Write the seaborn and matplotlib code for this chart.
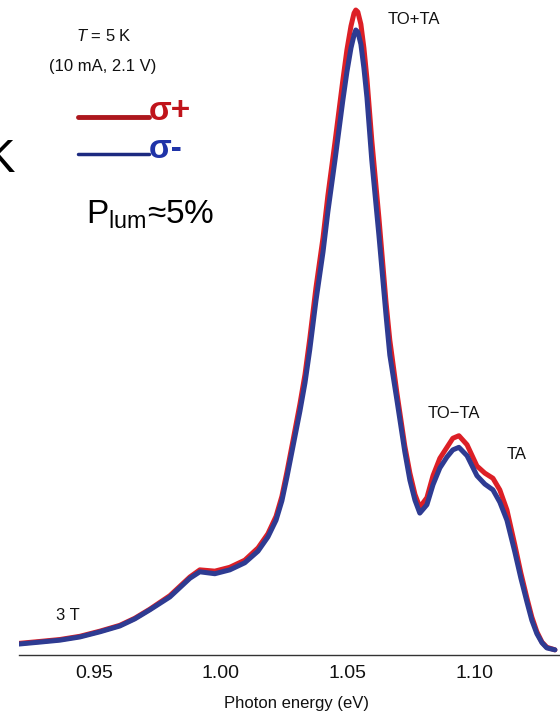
import numpy as np
import pandas as pd
import matplotlib
matplotlib.use("Agg")
import matplotlib.pyplot as plt
import seaborn as sns
from matplotlib.ticker import MultipleLocator

# photon energy (eV)
energy = [0.9205, 0.9287, 0.9366, 0.9445, 0.9524, 0.9602, 0.9661, 0.9720, 0.9799,
          0.9878, 0.9917, 0.9976, 1.0035, 1.0094, 1.0146, 1.0185, 1.0217, 1.0240,
          1.0260, 1.0283, 1.0311, 1.0331, 1.0350, 1.0374, 1.0402, 1.0421, 1.0449,
          1.0480, 1.0496, 1.0512, 1.0524, 1.0531, 1.0539, 1.0551, 1.0563, 1.0575,
          1.0594, 1.0622, 1.0650, 1.0665, 1.0693, 1.0724, 1.0744, 1.0764, 1.0783,
          1.0811, 1.0835, 1.0862, 1.0890, 1.0913, 1.0937, 1.0969, 1.1008, 1.1039,
          1.1071, 1.1098, 1.1126, 1.1157, 1.1181, 1.1205, 1.1224, 1.1244, 1.1264,
          1.1283, 1.1315]

# sigma- (blue), arbitrary units
sigma_minus = [1.7, 2.0, 2.3, 2.8, 3.6, 4.5, 5.6, 7.0, 9.0,
               11.9, 12.9, 12.6, 13.2, 14.3, 16.1, 18.3, 20.9, 23.9,
               27.6, 32.2, 37.8, 42.2, 47.4, 54.9, 62.5, 68.7, 76.7,
               86.0, 90.4, 94.1, 96.1, 96.9, 96.6, 94.7, 91.0, 86.4,
               76.7, 65.1, 52.7, 46.5, 39.5, 31.5, 27.1, 24.0, 22.0,
               23.3, 26.4, 29.0, 30.7, 31.8, 32.2, 30.9, 27.8, 26.5,
               25.6, 23.7, 20.9, 16.0, 11.9, 8.2, 5.4, 3.3, 1.9,
               1.1, 0.8]

# sigma+ (red), arbitrary units
sigma_plus = [1.8, 2.1, 2.4, 2.9, 3.7, 4.6, 5.7, 7.1, 9.2,
              12.1, 13.2, 13.0, 13.6, 14.7, 16.6, 18.8, 21.5, 24.6,
              28.4, 33.1, 38.9, 43.5, 49.1, 56.9, 64.7, 71.2, 79.5,
              89.1, 93.8, 97.5, 99.5, 100.0, 99.7, 97.8, 94.1, 89.3,
              79.8, 67.8, 54.7, 48.8, 40.6, 32.4, 28.2, 24.9, 22.9,
              24.4, 27.8, 30.5, 32.2, 33.6, 34.0, 32.6, 29.3, 28.2,
              27.4, 25.6, 22.5, 17.1, 12.7, 8.8, 5.9, 3.6, 2.0,
              1.2, 0.8]

major_ticks = [0.95, 1.00, 1.05, 1.10]
tick_labels = ["0.95", "1.00", "1.05", "1.10"]

df = pd.concat([
    pd.DataFrame({"energy": energy, "intensity": sigma_plus, "pol": "σ+"}),
    pd.DataFrame({"energy": energy, "intensity": sigma_minus, "pol": "σ-"}),
])

sns.set_style("white")
fam = ["Liberation Sans", "DejaVu Sans"]
plt.rcParams["font.family"] = fam
plt.rcParams["mathtext.fontset"] = "custom"
plt.rcParams["mathtext.rm"] = "Liberation Sans"
plt.rcParams["mathtext.it"] = "Liberation Sans:italic"

W, H = 560, 719
fig = plt.figure(figsize=(5.6, 7.19), dpi=100)
ax = fig.add_axes([19 / W, 1 - 655 / H, 541 / W, 655 / H])

sns.lineplot(data=df, x="energy", y="intensity", hue="pol",
             palette={"σ+": "#dc1f26", "σ-": "#2e3b92"},
             linewidth=3.6, legend=False, ax=ax, sort=False)

ax.set_xlim(0.9205, 1.1335)
ax.set_ylim(0, 101.55)

for s in ["top", "right", "left"]:
    ax.spines[s].set_visible(False)
ax.spines["bottom"].set_color("#333333")
ax.spines["bottom"].set_linewidth(1.0)

ax.set_yticks([])
ax.set_ylabel("")
ax.set_xticks(major_ticks)
ax.set_xticklabels(tick_labels)
ax.xaxis.set_minor_locator(MultipleLocator(0.01))
ax.tick_params(axis="x", which="major", direction="in", length=9, width=0.9,
               color="#333333", labelsize=14, pad=7, labelcolor="#111111")
ax.tick_params(axis="x", which="minor", direction="in", length=5.5, width=0.9,
               color="#333333")
ax.set_xlabel("Photon energy (eV)", fontsize=12, color="#111111")
ax.xaxis.set_label_coords((297 - 19) / 541, (655 - 696) / 655)


def px(x, y):
    return x / W, 1 - y / H


fig.text(*px(104, 36), "$T$ = 5 K", fontsize=12, ha="center", va="center", color="#111111")
fig.text(*px(103, 67), "(10 mA, 2.1 V)", fontsize=12, ha="center", va="center", color="#111111")

# hand-drawn style legend
fig.lines.append(plt.Line2D([78 / W, 149 / W], [1 - 117 / H, 1 - 117 / H],
                            transform=fig.transFigure, color="#ad171d", lw=3.5))
fig.lines.append(plt.Line2D([78 / W, 149 / W], [1 - 154 / H, 1 - 154 / H],
                            transform=fig.transFigure, color="#1c2a80", lw=2.5))
fig.text(*px(149, 111), "σ+", fontsize=24, fontweight="bold", ha="left", va="center",
         color="#c0141b")
fig.text(*px(149, 149), "σ-", fontsize=24, fontweight="bold", ha="left", va="center",
         color="#1f33a8")

fig.text(*px(15, 160), "K", fontsize=34, ha="right", va="center", color="black")
fig.text(*px(86, 215), r"P$_{\mathrm{lum}}$≈5%", fontsize=24, ha="left", va="center",
         color="black")

fig.text(*px(414, 20), "TO+TA", fontsize=12, ha="center", va="center", color="#111111")
fig.text(*px(454, 413), "TO−TA", fontsize=12, ha="center", va="center", color="#111111")
fig.text(*px(517, 454), "TA", fontsize=12, ha="center", va="center", color="#111111")
fig.text(*px(68, 616), "3 T", fontsize=12, ha="center", va="center", color="#111111")

fig.savefig("out.png", dpi=100, facecolor="white")
